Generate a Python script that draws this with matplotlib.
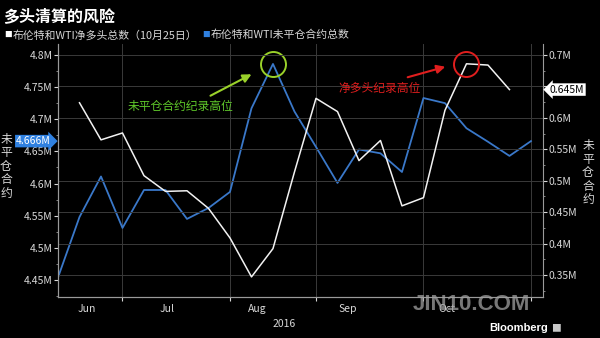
import matplotlib
matplotlib.use("Agg")
import matplotlib.pyplot as plt
from matplotlib.ticker import FixedLocator, FuncFormatter, MultipleLocator

plt.rcParams['font.family'] = ['Noto Sans CJK SC', 'DejaVu Sans']

# weekly data points (index 0 = first week shown)
weeks_oi = list(range(23))
open_interest = [4.454, 4.548, 4.611, 4.531, 4.590, 4.590, 4.545, 4.562, 4.587, 4.717,
                 4.786, 4.712, 4.657, 4.601, 4.653, 4.647, 4.618, 4.733, 4.725, 4.686,
                 4.665, 4.643, 4.666]
weeks_net = list(range(1, 22))
net_long = [0.624, 0.565, 0.576, 0.508, 0.483, 0.484, 0.456, 0.409, 0.347, 0.392,
            0.514, 0.631, 0.610, 0.532, 0.564, 0.460, 0.473, 0.612, 0.686, 0.684,
            0.645]

month_labels = ['Jun', 'Jul', 'Aug', 'Sep', 'Oct']
month_pos = [1.35, 5.07, 9.26, 13.5, 18.1]
month_ticks = [3, 8, 12, 17, 22]
left_ticks = [4.45, 4.5, 4.55, 4.6, 4.65, 4.7, 4.75, 4.8]
right_ticks = [0.35, 0.4, 0.45, 0.5, 0.55, 0.6, 0.65, 0.7]

bg = 'black'
fg = '#d8d8d8'
blue = '#3a78c9'
green = '#9ad12a'
red = '#e01e1e'

fig = plt.figure(figsize=(6, 3.38), dpi=100, facecolor=bg)
ax = fig.add_axes([58 / 600, 41 / 338, 485 / 600, 253 / 338], facecolor=bg)
ax2 = ax.twinx()

ax.plot(weeks_oi, open_interest, color=blue, lw=1.3, zorder=3)
ax2.plot(weeks_net, net_long, color='#f2f2f2', lw=1.1, zorder=3)

ax.set_xlim(0, 22.56)
ax.set_ylim(4.4236, 4.8170)
ax2.set_ylim(0.315, 0.7175)

fmt = FuncFormatter(lambda v, p: f'{v:g}M')
# the 0.65M label sits under the last-value box, so leave it blank
fmt_right = FuncFormatter(lambda v, p: '' if abs(v - 0.65) < 1e-6 else f'{v:g}M')
ax.yaxis.set_major_locator(FixedLocator(left_ticks))
ax.yaxis.set_major_formatter(fmt)
ax.yaxis.set_minor_locator(MultipleLocator(0.025))
ax2.yaxis.set_major_locator(FixedLocator(right_ticks))
ax2.yaxis.set_major_formatter(fmt_right)
ax2.yaxis.set_minor_locator(MultipleLocator(0.025))

ax.xaxis.set_major_locator(FixedLocator(month_ticks))
ax.xaxis.set_major_formatter(FuncFormatter(lambda v, p: ''))
ax.xaxis.set_minor_locator(FixedLocator(month_pos))
ax.xaxis.set_minor_formatter(FuncFormatter(lambda v, p: month_labels[p]))

for a in (ax, ax2):
    for s in a.spines.values():
        s.set_color('#9a9a9a')
        s.set_linewidth(0.8)
    a.spines['top'].set_visible(False)
    a.tick_params(colors=fg, labelsize=7.5, length=3, width=0.8)
    a.tick_params(which='minor', length=1.5, width=0.6, colors='#9a9a9a')
ax.tick_params(axis='x', which='minor', length=0, labelcolor=fg, labelsize=7.5, pad=5)
ax.tick_params(axis='y', pad=1)
ax2.tick_params(axis='y', pad=1)
ax.spines['right'].set_visible(False)

ax.grid(axis='x', which='major', color='#3a3a3a', lw=0.7)
ax2.grid(axis='y', which='major', color='#3a3a3a', lw=0.7)
ax.set_axisbelow(True)
ax2.set_axisbelow(True)

ax.text(10.5, -0.085, '2016', transform=ax.get_xaxis_transform(), ha='center',
        va='top', color=fg, fontsize=7.5)

# highlight circles on the record highs
ax.plot(weeks_oi[10], open_interest[10], 'o', ms=18, mfc='none', mec=green, mew=1.4, zorder=4)
ax2.plot(weeks_net[18], net_long[18], 'o', ms=18, mfc='none', mec=red, mew=1.4, zorder=4)

fig.text(128 / 600, 1 - 107 / 338, '未平仓合约纪录高位', color='#5fc82a', fontsize=8.5, va='center')
fig.text(338 / 600, 1 - 88 / 338, '净多头纪录高位', color=red, fontsize=8.5, va='center')
fig.add_artist(matplotlib.patches.FancyArrowPatch(
    (208 / 600, 1 - 97 / 338), (254 / 600, 1 - 73 / 338), transform=fig.transFigure,
    arrowstyle='-|>,head_length=5,head_width=2.5', color=green, lw=1.5))
fig.add_artist(matplotlib.patches.FancyArrowPatch(
    (405 / 600, 1 - 78 / 338), (448 / 600, 1 - 66 / 338), transform=fig.transFigure,
    arrowstyle='-|>,head_length=5,head_width=2.5', color=red, lw=1.5))

# last value boxes
ax.annotate(f'{open_interest[-1]:.3f}M', xy=(0, open_interest[-1]),
            xycoords=('axes fraction', 'data'), xytext=(-5, 0), textcoords='offset points',
            ha='right', va='center', color='white', fontsize=7.5, zorder=6,
            bbox=dict(boxstyle='rarrow,pad=0.12', fc='#2f80e0', ec='none'),
            annotation_clip=False)
ax2.annotate(f'{net_long[-1]:.3f}M', xy=(1, net_long[-1]),
             xycoords=('axes fraction', 'data'), xytext=(5, 0), textcoords='offset points',
             ha='left', va='center', color='black', fontsize=7.5, zorder=6,
             bbox=dict(boxstyle='larrow,pad=0.12', fc='white', ec='none'),
             annotation_clip=False)

# axis titles, stacked characters
fig.text(6 / 600, 1 - 166 / 338, '未\n平\n仓\n合\n约', color=fg, fontsize=8.5,
         ha='center', va='center', linespacing=1.05)
fig.text(588 / 600, 1 - 173 / 338, '未\n平\n仓\n合\n约', color=fg, fontsize=8.5,
         ha='center', va='center', linespacing=1.05)

# title and legend
fig.text(3 / 600, 1 - 16 / 338, '多头清算的风险', color='white', fontsize=11.5,
         fontweight='bold', va='center')
fig.text(4 / 600, 1 - 35 / 338, '■', color='white', fontsize=5.5, va='center')
fig.text(13 / 600, 1 - 35 / 338, '布伦特和WTI净多头总数（10月25日）', color=fg,
         fontsize=7.8, va='center')
fig.text(202 / 600, 1 - 35 / 338, '■', color='#2f80e0', fontsize=5.5, va='center')
fig.text(211 / 600, 1 - 35 / 338, '布伦特和WTI未平仓合约总数', color=fg,
         fontsize=7.8, va='center')

# footer
fig.text(471 / 600, 1 - 304 / 338, 'JIN10.COM', color='#a0a0a0', alpha=0.75,
         fontsize=16, fontweight='bold', family='Liberation Sans', ha='center', va='center')
fig.text(548 / 600, 1 - 328 / 338, 'Bloomberg', color='white', fontsize=8,
         fontweight='bold', family='Liberation Sans', ha='right', va='center')
fig.text(551 / 600, 1 - 328 / 338, '■', color='#c8c8c8', fontsize=7, va='center')

fig.savefig('out.png', dpi=100, facecolor=bg)
